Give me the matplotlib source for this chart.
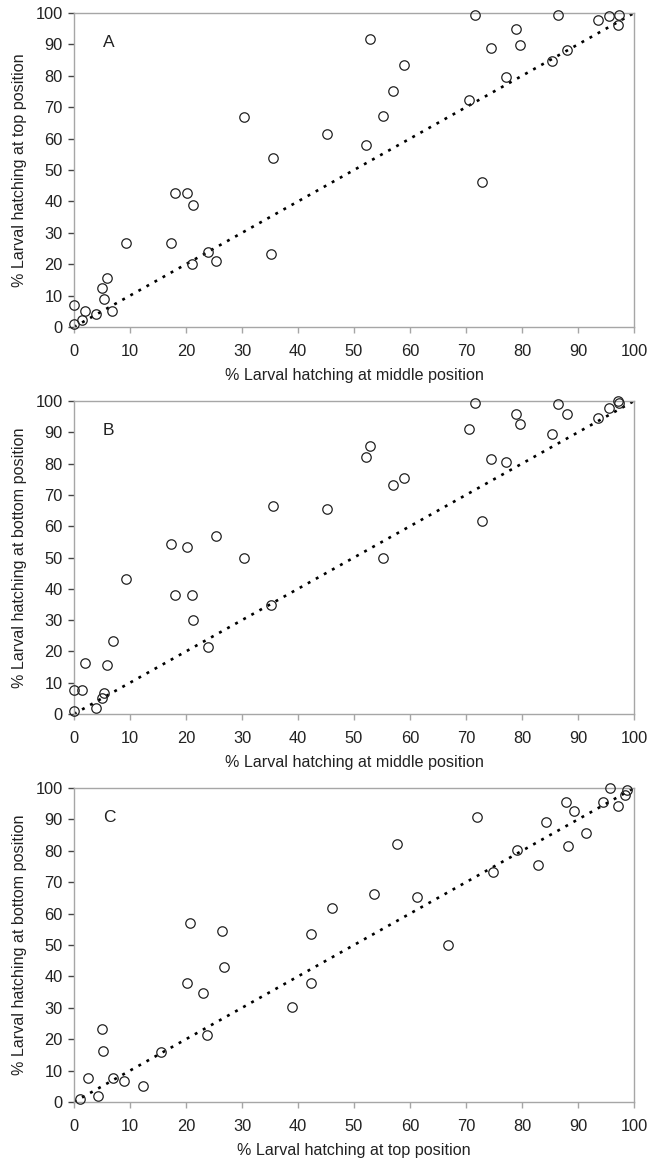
import matplotlib
matplotlib.use("Agg")
import matplotlib.pyplot as plt

plt.rcParams['font.family'] = ['Liberation Sans', 'DejaVu Sans']

# Panel A: middle (x) vs top (y)
a_x = [30.4, 45.1, 35.5, 18.0, 20.1, 21.3, 9.2, 17.4, 24.0, 21.0, 25.3, 35.1, 5.9, 5.0, 5.4,
       0.0, 1.9, 4.0, 6.8, 1.4, 0.0,
       71.6, 86.5, 52.8, 78.9, 74.4, 79.6, 93.5, 95.5, 97.3, 97.1, 88.0, 85.3, 59.0, 57.0,
       55.2, 77.1, 70.5, 52.1, 72.9]
a_y = [67.0, 61.6, 53.8, 42.6, 42.6, 39.0, 26.8, 26.6, 23.8, 20.2, 20.9, 23.1, 15.6, 12.4, 8.8,
       6.9, 5.1, 4.1, 5.0, 2.3, 1.1,
       99.3, 99.3, 91.8, 95.0, 88.7, 89.7, 97.7, 98.9, 99.3, 96.1, 88.2, 84.6, 83.3, 75.3,
       67.2, 79.5, 72.3, 58.1, 46.2]

# Panel B: middle (x) vs bottom (y)
b_x = [35.5, 45.1, 25.3, 17.4, 20.1, 30.4, 9.2, 18.0, 21.0, 21.3, 35.1, 24.0, 6.9, 1.9, 5.9,
       0.0, 1.4, 5.4, 5.0, 4.0, 0.0,
       71.6, 86.5, 70.5, 78.9, 79.6, 88.0, 85.3, 93.5, 95.5, 97.1, 97.3, 52.8, 52.1, 59.0,
       57.0, 74.4, 77.1, 72.9, 55.2]
b_y = [66.5, 65.4, 56.9, 54.4, 53.5, 50.0, 43.0, 38.0, 38.0, 30.1, 34.8, 21.4, 23.2, 16.4, 15.7,
       7.6, 7.6, 6.6, 5.0, 1.8, 0.9,
       99.3, 99.0, 90.9, 95.7, 92.8, 95.7, 89.4, 94.5, 97.9, 100.0, 99.5, 85.6, 82.2, 75.5,
       73.2, 81.5, 80.4, 61.8, 50.0]

# Panel C: top (x) vs bottom (y)
c_x = [46.0, 20.7, 26.5, 42.4, 26.7, 20.1, 42.3, 23.1, 38.9, 23.8, 5.0, 5.2, 15.5, 2.5, 6.9,
       8.9, 12.4, 4.2, 1.1,
       95.7, 98.7, 98.4, 87.9, 94.5, 89.2, 97.2, 72.0, 84.2, 91.4, 57.7, 79.1, 88.3, 74.9,
       82.8, 53.6, 61.3, 66.7]
c_y = [61.7, 56.9, 54.4, 53.6, 43.0, 38.0, 38.0, 34.7, 30.1, 21.4, 23.2, 16.3, 15.9, 7.6, 7.7,
       6.6, 5.2, 2.0, 0.9,
       100.0, 99.4, 97.9, 95.7, 95.7, 92.8, 94.4, 90.9, 89.3, 85.6, 82.2, 80.2, 81.4, 73.2,
       75.4, 66.4, 65.4, 49.9]

panels = [
    ("A", a_x, a_y, "% Larval hatching at middle position", "% Larval hatching at top position"),
    ("B", b_x, b_y, "% Larval hatching at middle position", "% Larval hatching at bottom position"),
    ("C", c_x, c_y, "% Larval hatching at top position", "% Larval hatching at bottom position"),
]
ticks = [0, 10, 20, 30, 40, 50, 60, 70, 80, 90, 100]

W, H = 656, 1166
fig = plt.figure(figsize=(W / 100, H / 100), dpi=100)

# pixel boxes (left, top, right, bottom)
boxes = [(74, 13, 634, 327), (74, 401, 634, 714), (74, 788, 634, 1102)]

spine_col = "#a6a6a6"
txt = "#222222"
for (letter, xs, ys, xl, yl), (l, t, r, b) in zip(panels, boxes):
    ax = fig.add_axes([l / W, 1 - b / H, (r - l) / W, (b - t) / H])
    ax.plot([0, 100], [0, 100], color="black", lw=1.9, linestyle=(0, (1.1, 2.4)), zorder=1)
    ax.plot(xs, ys, linestyle="none", marker="o", markersize=6.8, clip_on=False,
            markerfacecolor="none", markeredgecolor="#222222", markeredgewidth=0.9, zorder=3)
    ax.set_xlim(0, 100)
    ax.set_ylim(0, 100)
    ax.set_xticks(ticks)
    ax.set_yticks(ticks)
    for s in ax.spines.values():
        s.set_color(spine_col)
        s.set_linewidth(1.0)
    ax.tick_params(axis="x", direction="out", length=4, width=1, color=spine_col,
                   labelsize=11.8, labelcolor=txt, pad=8)
    ax.tick_params(axis="y", direction="out", length=4, width=1, color="#444444",
                   labelsize=11.8, labelcolor=txt, pad=4)
    ax.set_xlabel(xl, fontsize=11.6, color=txt, labelpad=7)
    ax.set_ylabel(yl, fontsize=11.6, color=txt, labelpad=6)
    ax.text(0.052, 0.905, letter, transform=ax.transAxes, fontsize=12.5, color=txt,
            ha="left", va="center")

fig.savefig("out.png", dpi=100)
